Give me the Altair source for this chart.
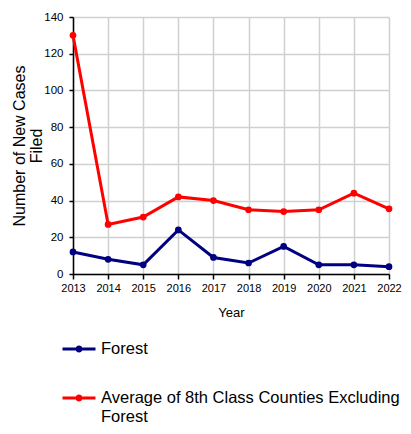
import altair as alt
import pandas as pd

years = [2013, 2014, 2015, 2016, 2017, 2018, 2019, 2020, 2021, 2022]
forest = [12, 8, 5, 24, 9, 6, 15, 5, 5, 4]
average = [130, 27, 31, 42, 40, 35, 34, 35, 44, 35.5]
series_names = ["Forest", "Average of 8th Class Counties Excluding Forest"]
series_colors = ["#000080", "#ff0000"]

rows = []
for y, v in zip(years, forest):
    rows.append({"Year": y, "Value": v, "Series": series_names[0]})
for y, v in zip(years, average):
    rows.append({"Year": y, "Value": v, "Series": series_names[1]})
df = pd.DataFrame(rows)

FONT = "Liberation Sans"
sym = "M-1,0H1M-0.121,0A0.121,0.121,0,1,1,0.121,0A0.121,0.121,0,1,1,-0.121,0"

color = alt.Color(
    "Series:N",
    scale=alt.Scale(domain=series_names, range=series_colors),
    sort=series_names,
    legend=alt.Legend(
        title=None,
        orient="none",
        legendX=-12,
        legendY=314,
        direction="vertical",
        symbolType=sym,
        symbolSize=1089,
        symbolStrokeWidth=3,
        labelFont=FONT,
        labelFontSize=16.5,
        labelColor="#000000",
        labelOffset=4,
        labelLimit=400,
        rowPadding=22,
        labelExpr="datum.label == 'Forest' ? 'Forest' : ['Average of 8th Class Counties Excluding', 'Forest']",
    ),
)

chart = (
    alt.Chart(df)
    .mark_line(strokeWidth=3, point=alt.OverlayMarkDef(filled=True, size=45))
    .encode(
        x=alt.X(
            "Year:Q",
            scale=alt.Scale(domain=[2013, 2022], nice=False),
            axis=alt.Axis(
                values=years,
                format="d",
                title="Year",
                titleFont=FONT,
                titleFontSize=13,
                titleFontWeight="normal",
                titleColor="#000000",
                titlePadding=13,
                labelFont=FONT,
                labelFontSize=11,
                labelColor="#000000",
                labelPadding=3,
                labelFlush=False,
                tickSize=5,
            ),
        ),
        y=alt.Y(
            "Value:Q",
            scale=alt.Scale(domain=[0, 140], nice=False),
            axis=alt.Axis(
                values=[0, 20, 40, 60, 80, 100, 120, 140],
                title=["Number of New Cases", "Filed"],
                titleFont=FONT,
                titleFontSize=16,
                titleFontWeight="normal",
                titleColor="#000000",
                titleLineHeight=17,
                titlePadding=-1,
                labelFont=FONT,
                labelFontSize=11.5,
                labelColor="#000000",
                labelPadding=6,
                tickSize=4,
            ),
        ),
        color=color,
        order=alt.Order("Year:Q"),
    )
    .properties(
        width=316,
        height=257,
        autosize=alt.AutoSizeParams(type="none"),
        padding={"left": 65, "top": 9, "right": 14, "bottom": 152},
    )
    .configure(style={"guide-label": {"lineHeight": 19}})
    .configure_view(stroke="transparent")
    .configure_axis(
        gridColor="#d0d0d0",
        gridWidth=1.5,
        domainColor="#000000",
        domainWidth=1.5,
        tickColor="#000000",
        tickWidth=1.5,
    )
)

chart.save("out.html", embed_options={"renderer": "svg", "actions": False})
